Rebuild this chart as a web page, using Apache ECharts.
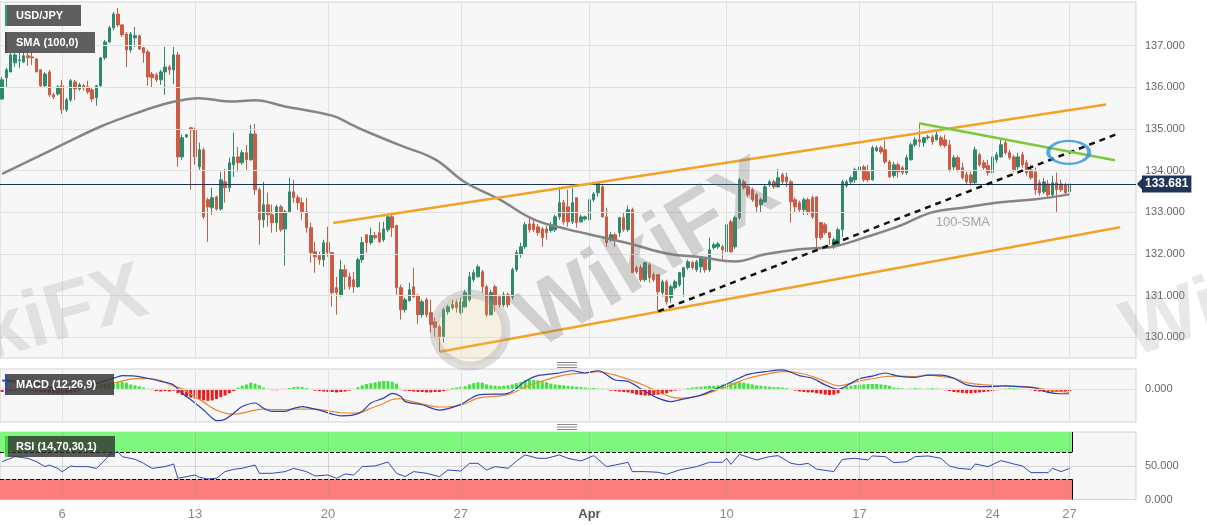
<!DOCTYPE html>
<html>
<head>
<meta charset="utf-8">
<title>USD/JPY 4H</title>
<script src="https://cdn.jsdelivr.net/npm/echarts@6/dist/echarts.min.js"></script>
<style>
html,body{margin:0;padding:0;background:#fff;}
#chart{width:1207px;height:526px;}
</style>
</head>
<body>
<div id="chart"></div>
<script>
// ---------------- data ----------------
const SLOTS = 265;
const categories = Array.from({length: SLOTS}, (_, i) => String(i));
const tickIdx = [14, 45, 76, 107, 137, 169, 200, 231, 249];
const tickText = ['6', '13', '20', '27', 'Apr', '10', '17', '24', '27'];
const priceTicks = [130, 131, 132, 133, 134, 135, 136, 137];
const lastPrice = 133.681;

const open = [
135.72,136.23,136.37,136.59,136.64,136.61,136.76,136.73,136.68,136.42,
136.04,136.37,135.82,135.84,136.04,135.46,135.70,136.13,135.96,136.04,
136.01,135.94,135.75,136.04,136.71,137.09,137.43,137.76,137.50,137.28,
136.90,137.19,137.24,136.95,136.85,136.32,136.30,136.18,136.37,136.49,
136.42,136.78,134.33,134.81,135.03,134.98,134.09,134.50,133.30,133.11,
133.37,133.08,133.73,133.59,134.14,134.33,134.19,134.43,134.26,134.88,
133.54,132.82,133.18,132.94,132.75,133.13,132.60,133.01,133.49,133.35,
133.23,133.01,132.63,132.05,131.96,131.86,132.27,132.03,131.19,131.02,
131.62,131.45,131.38,131.21,131.86,132.46,132.27,132.44,132.51,132.34,
132.58,132.89,132.68,131.19,130.66,130.88,131.21,131.00,130.54,130.90,
130.59,130.37,130.25,130.01,130.61,130.71,130.83,130.59,130.73,130.90,
131.38,131.45,131.57,131.21,130.54,131.21,130.97,130.78,131.02,130.97,
131.62,131.98,132.17,132.72,132.72,132.65,132.60,132.60,132.56,132.58,
132.89,133.23,133.13,132.77,133.35,132.77,132.84,132.82,133.30,133.47,
133.61,132.89,132.34,132.46,132.51,132.87,132.58,133.06,131.67,131.67,
131.38,131.74,131.50,131.50,131.07,131.33,130.95,131.19,131.26,131.45,
131.67,131.79,131.62,131.69,131.88,131.62,132.15,132.17,132.17,132.05,
132.77,132.17,132.87,133.73,133.61,133.54,133.42,133.18,133.25,133.66,
133.73,133.61,133.90,133.85,133.73,133.30,133.23,133.06,133.30,133.35,
133.37,132.75,132.70,132.51,132.17,132.22,132.58,133.64,133.73,133.78,
134.00,134.09,133.97,133.78,134.48,134.55,134.50,134.21,133.88,134.14,
134.07,133.95,134.26,134.62,134.74,134.67,134.79,134.81,134.74,134.79,
134.74,134.62,134.09,134.31,134.07,133.90,133.90,133.71,134.38,134.19,
134.12,133.95,134.26,134.33,134.67,134.43,134.33,134.09,134.38,134.19,
134.02,133.97,133.71,133.49,133.68,133.42,133.71,133.68,133.66,133.49
];
const close = [
136.18,136.42,136.78,136.78,136.66,136.76,136.71,136.71,136.37,136.04,
136.32,135.82,135.77,136.01,135.46,135.70,136.16,135.96,136.06,135.99,
135.89,135.72,136.04,136.71,137.09,137.43,137.76,137.50,137.26,136.90,
137.28,137.24,136.92,136.83,136.25,136.23,136.18,136.37,136.49,136.42,
136.78,134.33,134.79,134.86,134.98,134.33,134.50,132.89,133.13,133.35,
133.08,133.78,133.59,134.19,134.33,134.19,134.43,134.26,134.88,133.54,
132.82,133.18,132.94,132.75,133.13,132.58,133.01,133.49,133.35,133.23,
133.01,132.63,132.03,131.93,131.86,132.27,132.03,131.07,131.07,131.62,
131.45,131.21,131.21,131.86,132.27,132.27,132.44,132.39,132.29,132.60,
132.89,132.63,131.19,130.66,130.90,131.14,130.97,130.54,130.85,130.54,
130.30,130.23,130.01,130.66,130.73,130.78,130.71,130.85,131.07,131.45,
131.55,131.69,131.21,130.54,131.07,130.78,130.78,131.02,130.78,131.62,
132.03,132.17,132.70,132.58,132.58,132.51,132.39,132.51,132.70,132.89,
133.23,132.77,132.77,133.23,132.75,132.89,132.89,133.30,133.44,133.71,
132.89,132.27,132.46,132.34,132.87,132.58,133.06,131.55,131.57,131.38,
131.79,131.43,131.38,131.09,131.33,130.85,131.21,131.33,131.55,131.67,
131.81,131.67,131.81,131.93,131.62,132.10,132.22,132.24,132.10,132.70,
132.05,132.87,133.78,133.59,133.42,133.30,133.13,133.30,133.61,133.73,
133.61,133.83,133.73,133.73,133.25,133.13,133.06,133.30,132.99,132.89,
132.39,132.39,132.51,132.39,132.34,132.58,133.73,133.73,133.83,134.02,
134.09,133.78,133.78,134.55,134.55,134.45,134.21,133.85,134.14,133.97,
133.95,134.31,134.62,134.74,134.69,134.79,134.81,134.69,134.86,134.62,
134.60,134.02,134.31,134.02,133.83,133.73,133.71,134.50,134.14,134.07,
133.95,134.33,134.38,134.62,134.43,134.31,134.02,134.33,134.14,133.95,
133.83,133.54,133.47,133.73,133.42,133.71,133.54,133.54,133.47,133.681
];
const low = [
135.70,136.01,136.37,136.49,136.47,136.59,136.52,136.54,136.37,135.99,
135.99,135.77,135.72,135.80,135.36,135.41,135.65,135.70,135.92,135.92,
135.84,135.65,135.56,136.01,136.66,137.07,137.38,137.45,137.21,136.49,
136.83,136.97,136.90,136.59,136.04,135.99,136.13,136.06,135.82,136.30,
136.08,134.09,134.26,134.79,133.54,134.14,134.02,132.84,132.29,132.94,
133.04,133.04,133.23,133.49,133.85,133.97,134.14,134.02,134.24,133.42,
132.22,132.63,132.65,132.51,132.53,132.53,131.72,132.99,133.23,133.06,
132.82,132.51,131.79,131.55,131.74,131.69,131.93,130.73,130.54,130.97,
131.14,131.14,131.07,131.19,131.79,132.03,132.22,132.34,132.27,132.29,
132.53,132.41,131.02,130.42,130.59,130.85,130.95,130.32,130.47,130.47,
130.11,130.01,129.65,129.87,130.54,130.66,130.59,130.54,130.71,130.85,
131.33,131.43,131.07,130.49,130.52,130.61,130.71,130.73,130.71,130.90,
131.57,131.91,132.12,132.51,132.53,132.44,132.17,132.34,132.51,132.53,
132.82,132.70,132.65,132.72,132.63,132.75,132.80,132.77,133.25,133.37,
132.87,132.17,132.29,132.17,132.41,132.53,132.53,131.55,131.52,131.33,
131.33,131.31,131.33,130.61,130.97,130.78,130.83,131.14,131.21,130.97,
131.62,131.62,131.57,131.55,131.55,131.57,132.10,132.12,131.86,132.03,
132.03,132.12,132.82,133.54,133.37,133.25,133.01,132.99,133.23,133.61,
133.56,133.59,133.68,133.61,132.75,132.99,133.01,132.94,132.94,132.84,
132.05,132.34,132.46,132.22,132.12,132.17,132.41,133.59,133.68,133.71,
133.95,133.73,133.73,133.76,134.45,134.40,134.16,133.83,133.83,133.83,
133.90,133.90,134.24,134.57,134.57,134.57,134.74,134.62,134.72,134.57,
134.55,133.97,134.02,133.97,133.78,133.66,133.64,133.66,134.09,134.02,
133.88,133.90,134.19,134.31,134.38,134.26,133.97,134.02,134.07,133.88,
133.78,133.42,133.40,133.44,133.37,133.35,133.01,133.49,133.40,133.44
];
const high = [
136.25,136.47,136.85,136.90,136.97,136.97,136.83,136.83,136.71,136.44,
136.37,136.42,135.87,136.06,136.18,135.75,136.20,136.18,136.11,136.08,
136.16,135.99,136.06,136.73,137.14,137.48,137.81,137.91,137.52,137.33,
137.33,137.45,137.26,136.97,136.90,136.37,136.35,136.42,136.97,136.54,
136.97,136.85,134.86,134.88,135.05,135.03,134.67,134.55,133.35,133.59,
133.40,133.97,134.04,134.31,134.91,134.57,134.50,134.62,135.10,135.12,
133.59,133.73,133.47,133.18,133.18,133.18,133.06,133.83,133.78,133.42,
133.35,133.35,132.75,132.29,132.05,132.34,132.65,132.05,131.45,131.86,
131.74,131.55,131.57,131.91,132.41,132.46,132.63,132.53,132.77,132.77,
132.94,133.01,132.70,131.26,130.95,131.31,131.67,131.04,130.90,130.95,
130.90,130.47,130.30,130.71,130.78,130.90,130.90,130.95,131.14,131.57,
131.62,131.74,131.62,131.26,131.14,131.26,131.02,131.09,131.07,131.67,
132.10,132.27,132.77,132.87,132.82,132.72,132.65,132.68,132.77,132.94,
133.61,133.30,133.54,133.59,133.35,132.94,132.92,133.37,133.49,133.73,
133.66,133.11,132.53,132.51,132.89,132.99,133.16,133.11,131.72,131.74,
131.81,131.79,131.55,131.50,131.38,131.38,131.26,131.38,131.57,131.69,
131.86,131.84,131.86,131.93,131.91,132.39,132.27,132.29,132.22,132.75,
132.82,132.92,133.83,133.78,133.66,133.59,133.47,133.35,133.66,133.78,
133.78,134.04,133.95,133.95,133.78,133.35,133.28,133.35,133.35,133.40,
133.37,132.77,132.75,132.53,132.39,132.63,133.78,133.78,133.88,134.07,
134.14,134.14,134.14,134.60,134.60,134.60,134.72,134.26,134.21,134.19,
134.12,134.38,134.67,134.81,135.15,134.81,134.86,134.86,134.98,134.84,
134.86,134.74,134.38,134.36,134.19,133.97,133.97,134.57,134.43,134.26,
134.26,134.38,134.45,134.74,134.72,134.50,134.38,134.43,134.45,134.26,
134.14,134.07,133.78,133.83,133.78,133.88,133.95,133.78,133.71,133.76
];

// 100-period SMA at these candle positions
const smaIdx = [0,7,15,23,31,39,46,53,59,66,77,82,85,93,101,108,116,124,132,140,147,155,163,171,178,186,194,202,209,217,225,233,241,249];
const smaVal = [133.92,134.27,134.67,135.06,135.37,135.63,135.74,135.66,135.69,135.54,135.32,135.08,134.94,134.60,134.27,133.72,133.31,132.83,132.59,132.40,132.23,132.01,131.92,131.82,131.99,132.11,132.18,132.42,132.66,133.00,133.12,133.24,133.31,133.43];

// drawn trend lines [candle position, price]
const upperChannel = [[77.25, 132.74], [257.5, 135.59]];
const lowerChannel = [[102.1, 129.65], [260.8, 132.64]];
const supportLine  = [[153.06, 130.62], [260.6, 134.90]];
const resistLine   = [[213.9, 135.14], [259.6, 134.25]];
const circleMark   = [248.8, 134.44];
const smaLabelPos  = [224.1, 132.75];

// MACD (12,26,9)
const macdHist = [
-0.07,-0.06,-0.05,-0.04,-0.03,-0.03,-0.04,-0.05,-0.06,-0.07,
-0.08,-0.09,-0.10,-0.10,-0.11,-0.10,-0.09,-0.07,-0.05,
-0.03,-0.01,0.02,
0.05,0.08,0.10,0.12,0.14,
0.16,0.16,0.14,
0.10,0.08,0.06,0.03,
-0.02,-0.03,-0.05,-0.06,-0.05,-0.06,-0.04,
-0.10,-0.14,-0.17,-0.20,-0.22,-0.24,-0.26,-0.27,-0.26,-0.23,-0.19,-0.15,-0.10,-0.05,
0.03,0.07,0.10,0.14,0.12,0.08,0.03,
-0.02,-0.03,-0.03,-0.02,-0.01,
0.02,0.04,0.05,0.04,0.02,
-0.02,-0.04,-0.05,-0.06,-0.07,-0.07,-0.08,-0.07,-0.06,-0.04,-0.02,
0.04,0.08,0.11,0.13,0.15,0.17,0.18,0.18,0.16,0.12,
-0.02,-0.04,-0.05,-0.06,-0.07,-0.07,-0.08,-0.08,-0.07,-0.07,-0.05,-0.03,
0.02,0.03,0.05,0.06,
0.10,0.13,0.15,0.14,
0.10,0.08,0.07,0.06,0.07,0.08,0.10,
0.13,0.16,0.19,0.20,0.20,0.19,0.17,0.15,
0.12,0.10,0.09,0.08,0.07,0.06,0.05,0.04,
0.03,0.02,0.02,0.01,0.01,
-0.02,-0.04,-0.05,-0.06,-0.07,-0.08,-0.10,
-0.13,-0.14,-0.15,-0.15,-0.14,-0.13,-0.12,-0.10,
-0.06,-0.04,-0.03,-0.02,
0.02,0.03,0.04,0.05,0.06,0.07,0.07,0.08,0.10,
0.12,0.14,0.15,0.15,0.14,0.12,0.10,0.08,0.07,
0.06,0.05,0.04,0.04,0.03,0.02,
-0.02,-0.04,-0.06,-0.07,-0.08,-0.08,-0.10,-0.11,
-0.13,-0.14,-0.13,-0.10,
0.02,0.05,0.07,0.09,0.10,0.10,0.11,0.11,0.11,0.10,0.09,0.07,
0.03,0.02,0.01,-0.01,0.01,0.02,0.01,-0.01,0.01,0.02,0.01,-0.01,
-0.03,-0.05,-0.07,-0.08,-0.09,-0.10,-0.10,-0.09,-0.08,-0.07,-0.06,-0.05,-0.03,
-0.01,0.01,0.02,0.02,0.01,-0.01,-0.02,-0.03,
-0.05,-0.06,-0.07,-0.07,-0.08,-0.07,-0.06,-0.06,-0.05
];
const macdIdx = [0,7,15,21,26,28,31,34,37,40,42,45,47,49,50,52,54,56,59,61,63,66,68,70,73,75,77,79,82,84,86,89,91,93,94,98,102,107,111,118,122,125,130,133,136,139,143,146,150,153,156,158,163,167,171,174,178,182,186,189,192,195,198,200,203,206,209,213,216,219,222,225,228,231,234,237,241,244,247,249];
const macdVal = [0.20,0.14,-0.02,0.09,0.24,0.30,0.29,0.24,0.17,0.09,-0.10,-0.32,-0.48,-0.66,-0.72,-0.69,-0.55,-0.40,-0.32,-0.44,-0.51,-0.51,-0.44,-0.40,-0.46,-0.51,-0.57,-0.61,-0.59,-0.51,-0.32,-0.21,-0.10,-0.17,-0.29,-0.36,-0.48,-0.35,-0.14,-0.10,0.17,0.30,0.36,0.41,0.36,0.41,0.20,0.17,-0.06,-0.21,-0.29,-0.25,-0.14,0.02,0.20,0.33,0.39,0.43,0.30,0.24,0.09,-0.01,0.13,0.23,0.29,0.36,0.29,0.26,0.31,0.31,0.24,0.09,0.05,0.05,0.07,0.05,0.02,-0.08,-0.11,-0.11];
const sigVal = [0.17,0.11,0.02,0.05,0.13,0.18,0.23,0.23,0.19,0.06,0.00,-0.18,-0.30,-0.43,-0.48,-0.55,-0.57,-0.55,-0.48,-0.46,-0.47,-0.47,-0.46,-0.46,-0.46,-0.48,-0.51,-0.54,-0.55,-0.52,-0.44,-0.33,-0.24,-0.22,-0.25,-0.34,-0.41,-0.37,-0.21,-0.13,0.04,0.15,0.29,0.34,0.36,0.39,0.31,0.22,0.07,-0.07,-0.18,-0.21,-0.15,-0.02,0.13,0.24,0.33,0.39,0.36,0.28,0.17,0.07,0.12,0.18,0.23,0.28,0.29,0.28,0.31,0.28,0.24,0.14,0.10,0.08,0.07,0.06,0.03,-0.03,-0.06,-0.08];

// RSI (14,70,30,1)
const rsiIdx = [0,3,6,8,10,11,13,14,16,17,20,22,24,25,27,28,31,33,35,38,40,41,45,46,48,50,52,54,56,59,60,63,66,68,71,73,76,78,80,82,84,87,90,92,94,96,99,102,104,107,109,111,113,115,118,120,122,125,127,130,132,135,138,141,143,146,147,150,153,155,158,162,165,168,169,170,172,176,179,181,184,186,188,190,194,196,199,202,203,206,208,211,213,216,219,221,223,226,227,230,233,236,238,240,244,245,247,249];
const rsiVal = [56,63.5,61,56,48.7,51,46,41,49.7,48.7,48.7,46,58.5,66,70.9,63.5,59.5,53.6,46,48.7,52.6,31.4,36.3,32.9,30.4,31.4,41.3,44.7,46.2,51.1,38.8,38.8,41.3,46.2,41.3,34.8,36.3,31.4,37.8,36.3,48.7,49.7,55.5,38.8,33.9,41.3,38.8,33.9,43.7,42.2,53.6,53.6,43.7,48.7,46.2,57.1,66,61,61,66,61,57.1,65,48.7,51.1,55.1,41.3,41.3,40.3,37.3,43.7,48.7,55.1,55.1,61,52.1,66.9,58.6,63.5,65,53.6,51.5,53.6,45,41.3,59.5,61,58.5,64.5,63.5,54.6,56,63.5,64.5,61,49.7,46.2,44.7,52.6,48.7,57.6,52.6,49.7,39.8,39.8,46.2,41.3,46.2];
const rsiBands = {upper: 70, lower: 30, bandEnd: 249.7};

// ---------------- chart ----------------
const FONT = 'Liberation Sans, Arial, sans-serif';
const candleData = open.map((o, i) => [o, close[i], low[i], high[i]]);
const pairs = (xs, ys) => xs.map((x, i) => [x, ys[i]]);
const vMin = -0.5, vMax = SLOTS - 0.5;
const gridLineStyle = {color: '#e2e2e2', width: 1, type: 'solid'};

const hiddenCat = (g) => ({type: 'category', gridIndex: g, data: categories, boundaryGap: true,
  axisLine: {show: false}, axisTick: {show: false}, axisLabel: {show: false}, splitLine: {show: false}});
const hiddenVal = (g) => ({type: 'value', gridIndex: g, min: vMin, max: vMax, show: false,
  splitLine: {show: false}});

function trend(data, color, type, width) {
  return {type: 'line', xAxisIndex: 1, yAxisIndex: 0, data: data, symbol: 'none', silent: true,
    z: 6, lineStyle: {color: color, width: width, type: type}, animation: false};
}

const option = {
  animation: false,
  backgroundColor: '#ffffff',
  textStyle: {fontFamily: FONT},
  grid: [
    {left: 0, top: 2, width: 1136, height: 356, show: true, backgroundColor: '#f7f7f7', borderColor: '#d2d2d2', borderWidth: 1, outerBoundsMode: 'none'},
    {left: 0, top: 369, width: 1136, height: 53, show: true, backgroundColor: '#f7f7f7', borderColor: '#d2d2d2', borderWidth: 1, outerBoundsMode: 'none'},
    {left: 0, top: 432, width: 1136, height: 67.5, show: true, backgroundColor: '#f7f7f7', borderColor: '#d2d2d2', borderWidth: 1, outerBoundsMode: 'none'}
  ],
  xAxis: [
    hiddenCat(0), hiddenVal(0),
    hiddenCat(1), hiddenVal(1),
    {type: 'category', gridIndex: 2, data: categories, boundaryGap: true,
      axisLine: {show: false}, axisTick: {show: false}, splitLine: {show: false},
      axisLabel: {
        show: true, margin: 8, color: '#8a8a8a', fontSize: 13, fontFamily: FONT,
        interval: (index) => tickIdx.indexOf(index) !== -1,
        formatter: (value) => {
          const k = tickIdx.indexOf(Number(value));
          if (k < 0) return '';
          return tickText[k] === 'Apr' ? '{b|Apr}' : tickText[k];
        },
        rich: {b: {fontWeight: 'bold', color: '#555', fontSize: 13, fontFamily: FONT}}
      }},
    hiddenVal(2)
  ],
  yAxis: [
    {type: 'value', gridIndex: 0, position: 'right', min: 129.5, max: 138.05, interval: 0.5,
      axisLine: {show: false}, axisTick: {show: false}, splitLine: {show: false},
      axisLabel: {margin: 9, color: '#666', fontSize: 11, fontFamily: FONT,
        formatter: (v) => (Math.abs(v - Math.round(v)) < 1e-6 && v >= 129.99 && v <= 137.01) ? v.toFixed(3) : ''}},
    {type: 'value', gridIndex: 1, position: 'right', min: -0.75, max: 0.45, interval: 0.15,
      axisLine: {show: false}, axisTick: {show: false}, splitLine: {show: false},
      axisLabel: {margin: 9, color: '#666', fontSize: 11, fontFamily: FONT,
        formatter: (v) => Math.abs(v) < 1e-6 ? '0.000' : ''}},
    {type: 'value', gridIndex: 2, position: 'right', min: 0, max: 100, interval: 50,
      axisLine: {show: false}, axisTick: {show: false}, splitLine: {show: false},
      axisLabel: {margin: 9, color: '#666', fontSize: 11, fontFamily: FONT,
        formatter: (v) => v === 0 ? '0.000' : (v === 50 ? '50.000' : '')}}
  ],
  series: [
    // main grid lines
    {type: 'line', xAxisIndex: 1, yAxisIndex: 0, data: [], silent: true, z: 0,
      markLine: {symbol: ['none', 'none'], silent: true, label: {show: false}, lineStyle: gridLineStyle,
        data: priceTicks.map(v => ({yAxis: v})).concat(tickIdx.map(v => ({xAxis: v})))}},
    // candles
    {type: 'candlestick', xAxisIndex: 0, yAxisIndex: 0, data: candleData, barWidth: 3, z: 3,
      itemStyle: {color: '#2e8a6d', color0: '#cf5b44', borderColor: '#2e8a6d', borderColor0: '#cf5b44', borderWidth: 1},
      markLine: {symbol: ['none', 'none'], silent: true,
        lineStyle: {color: '#1f3557', width: 1, type: 'solid'},
        label: {show: true, position: 'end', distance: 6, formatter: lastPrice.toFixed(3), color: '#fff',
          backgroundColor: '#1f3557', padding: [3, 3, 2, 3], fontWeight: 'bold', fontSize: 12, fontFamily: FONT},
        data: [{yAxis: lastPrice}]}},
    // SMA 100
    {type: 'line', xAxisIndex: 1, yAxisIndex: 0, data: pairs(smaIdx, smaVal), smooth: 0.4, symbol: 'none', silent: true,
      z: 5, lineStyle: {color: '#858585', width: 2.5}},
    trend(upperChannel, '#f2a229', 'solid', 2.5),
    trend(lowerChannel, '#f2a229', 'solid', 2.5),
    trend(supportLine, '#111111', [6, 5], 2.5),
    trend(resistLine, '#7cc83c', 'solid', 2.5),
    {type: 'scatter', xAxisIndex: 1, yAxisIndex: 0, data: [circleMark], symbol: 'circle', symbolSize: [41, 23],
      silent: true, z: 7, itemStyle: {color: 'rgba(0,0,0,0)', borderColor: '#2d92d8', borderWidth: 3}},
    {type: 'scatter', xAxisIndex: 1, yAxisIndex: 0, data: [smaLabelPos], symbolSize: 1, silent: true, z: 7,
      itemStyle: {color: 'rgba(0,0,0,0)'},
      label: {show: true, position: 'inside', formatter: '100-SMA', color: '#8f8f8f', fontSize: 13, fontFamily: FONT}},

    // MACD grid lines
    {type: 'line', xAxisIndex: 3, yAxisIndex: 1, data: [], silent: true, z: 0,
      markLine: {symbol: ['none', 'none'], silent: true, label: {show: false}, lineStyle: gridLineStyle,
        data: [{yAxis: 0}].concat(tickIdx.map(v => ({xAxis: v})))}},
    {type: 'bar', xAxisIndex: 2, yAxisIndex: 1, barWidth: 3, silent: true, z: 2,
      data: macdHist.map(v => ({value: v, itemStyle: {color: v >= 0 ? '#3fe43f' : '#ec1c1c'}}))},
    {type: 'line', xAxisIndex: 3, yAxisIndex: 1, data: pairs(macdIdx, macdVal), smooth: 0.3, symbol: 'none', silent: true,
      z: 4, lineStyle: {color: '#2a40b4', width: 1.2}},
    {type: 'line', xAxisIndex: 3, yAxisIndex: 1, data: pairs(macdIdx, sigVal), smooth: 0.3, symbol: 'none', silent: true,
      z: 3, lineStyle: {color: '#f0862a', width: 1.2}},

    // RSI bands
    {type: 'line', xAxisIndex: 5, yAxisIndex: 2, data: [], silent: true, z: 1,
      markArea: {silent: true, data: [
        [{coord: [vMin, rsiBands.upper], itemStyle: {color: '#7ff77f'}}, {coord: [rsiBands.bandEnd, 100]}],
        [{coord: [vMin, 0], itemStyle: {color: '#fd7d7d'}}, {coord: [rsiBands.bandEnd, rsiBands.lower]}]
      ]}},
    // RSI grid lines
    {type: 'line', xAxisIndex: 5, yAxisIndex: 2, data: [], silent: true, z: 2,
      markLine: {symbol: ['none', 'none'], silent: true, label: {show: false},
        lineStyle: {color: 'rgba(150,150,150,0.35)', width: 1, type: 'solid'},
        data: [{yAxis: 50}].concat(tickIdx.map(v => ({xAxis: v})))}},
    // RSI level lines and band edges
    {type: 'line', xAxisIndex: 5, yAxisIndex: 2, data: [], silent: true, z: 3,
      markLine: {symbol: ['none', 'none'], silent: true, label: {show: false},
        lineStyle: {color: '#000', width: 1, type: [4, 2]},
        data: [
          [{coord: [vMin, rsiBands.upper]}, {coord: [rsiBands.bandEnd, rsiBands.upper]}],
          [{coord: [vMin, rsiBands.lower]}, {coord: [rsiBands.bandEnd, rsiBands.lower]}],
          [{coord: [rsiBands.bandEnd, 100], lineStyle: {type: 'solid'}}, {coord: [rsiBands.bandEnd, rsiBands.upper]}],
          [{coord: [rsiBands.bandEnd, rsiBands.lower], lineStyle: {type: 'solid'}}, {coord: [rsiBands.bandEnd, 0]}]
        ]}},
    {type: 'line', xAxisIndex: 5, yAxisIndex: 2, data: pairs(rsiIdx, rsiVal), symbol: 'none', silent: true,
      z: 5, lineStyle: {color: '#2e4bb6', width: 1}}
  ]
};

function labelBox(x, y, w, text, fill, accent, accentW) {
  return [
    {type: 'rect', silent: true, z: 60, shape: {x: x, y: y, width: w, height: 21}, style: {fill: fill}},
    {type: 'rect', silent: true, z: 61, shape: {x: x, y: y, width: accentW, height: 21}, style: {fill: accent}},
    {type: 'text', silent: true, z: 62, x: x + 11, y: y + 10.5,
      style: {text: text, fill: '#ffffff', font: 'bold 11px ' + FONT, verticalAlign: 'middle', textVerticalAlign: 'middle'}}
  ];
}
function handle(cx, cy) {
  return [-2.5, 0, 2.5].map(d => ({type: 'line', silent: true, z: 60,
    shape: {x1: cx - 10, y1: cy + d, x2: cx + 10, y2: cy + d}, style: {stroke: '#8a8a8a', lineWidth: 1}}));
}
function watermark(x, y, deg, size, color, align) {
  return {type: 'text', silent: true, z: 50, x: x, y: y, rotation: deg * Math.PI / 180,
    style: {text: 'WikiFX', font: 'bold ' + size + 'px ' + FONT, fill: color,
      align: align, textAlign: align, verticalAlign: 'middle', textVerticalAlign: 'middle'}};
}
function logoMark(cx, cy, r, alpha) {
  return {type: 'circle', silent: true, z: 49, shape: {cx: cx, cy: cy, r: r},
    style: {fill: 'rgba(235,205,120,' + (alpha * 0.6) + ')', stroke: 'rgba(140,140,140,' + alpha + ')', lineWidth: 9}};
}

const graphicEls = [].concat(
  [logoMark(470, 330, 36, 0.28),
   watermark(648, 256, 31, 86, 'rgba(120,120,120,0.30)', 'center'),
   watermark(145, 292, 16, 80, 'rgba(150,150,150,0.22)', 'right'),
   watermark(1126, 336, 18, 80, 'rgba(150,150,150,0.22)', 'left')],
  labelBox(5, 5, 76, 'USD/JPY', '#5f5f5f', '#22a08a', 2),
  labelBox(5, 32, 90, 'SMA (100,0)', '#5f5f5f', '#4a4a4a', 2),
  labelBox(5, 374, 109, 'MACD (12,26,9)', 'rgba(55,55,55,0.85)', '#2448d0', 2),
  labelBox(5, 436, 110, 'RSI (14,70,30,1)', 'rgba(45,45,45,0.78)', '#3ad83a', 3),
  handle(567, 365),
  handle(567, 427)
);
option.graphic = {elements: graphicEls};

const chart = echarts.init(document.getElementById('chart'), null, {renderer: 'canvas'});
chart.setOption(option);

// arrow pointing to the last-price tag
const py = chart.convertToPixel({yAxisIndex: 0}, lastPrice);
graphicEls.push({type: 'polygon', silent: true, z: 62,
  shape: {points: [[1137, py], [1142.5, py - 6], [1142.5, py + 6]]}, style: {fill: '#1f3557'}});
chart.setOption({graphic: {elements: graphicEls}});
</script>
</body>
</html>
